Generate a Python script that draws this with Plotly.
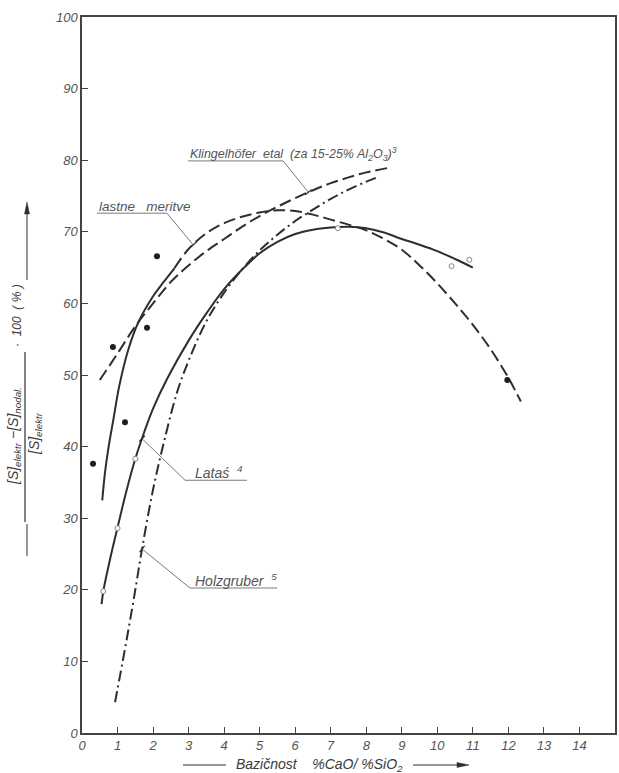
import numpy as np
import plotly.graph_objects as go

# ---------------- data ----------------
x_ticks = list(range(0, 16))
y_ticks = list(range(0, 101, 10))

# lastne meritve (own measurements): solid lower part, dashed upper part
lastne_solid_x = [0.57, 0.65, 0.75, 0.88, 1.05, 1.3, 1.58, 2.0, 2.3, 2.6]
lastne_solid_y = [32.5, 36.5, 40.0, 43.7, 48.5, 53.5, 57.3, 61.0, 63.0, 64.9]
lastne_dash_x = [2.6, 3.0, 3.5, 4.0, 4.5, 5.0, 5.5, 6.0, 6.5, 7.0, 7.5, 8.0, 8.5,
                 9.0, 9.5, 10.0, 10.5, 11.0, 11.5, 12.0, 12.35]
lastne_dash_y = [64.9, 67.6, 69.8, 71.2, 72.1, 72.7, 73.0, 72.9, 72.4, 71.7, 71.0,
                 70.2, 69.0, 67.5, 65.3, 62.8, 60.0, 57.0, 53.6, 49.6, 46.3]
own_pts_x = [0.31, 0.87, 1.21, 1.83, 2.11, 11.97]
own_pts_y = [37.6, 53.9, 43.4, 56.6, 66.6, 49.3]

# Klingelhöfer et al. (15-25 % Al2O3)
kling_x = [0.5, 1.0, 1.5, 2.0, 2.5, 3.0, 3.5, 4.0, 4.5, 5.0, 5.5, 6.0, 6.5,
           7.0, 7.5, 8.0, 8.7]
kling_y = [49.3, 53.0, 56.8, 60.0, 63.0, 65.3, 67.3, 69.0, 70.7, 72.2, 73.5,
           74.7, 75.8, 76.8, 77.6, 78.3, 79.0]

# Lataś
latas_x = [0.55, 0.6, 0.8, 1.0, 1.25, 1.5, 1.75, 2.0, 2.4, 3.0, 3.5, 4.0, 4.5,
           5.0, 5.5, 6.0, 6.5, 7.0, 7.5, 8.0, 8.5, 9.0, 9.5, 10.0, 10.5, 11.0]
latas_y = [18.0, 19.8, 24.5, 28.7, 33.8, 38.3, 42.0, 45.3, 49.5, 54.8, 58.6,
           62.0, 64.7, 67.0, 68.6, 69.7, 70.3, 70.6, 70.7, 70.5, 69.9, 69.0,
           68.2, 67.3, 66.2, 65.0]
latas_pts_x = [0.6, 1.0, 1.5, 7.2, 10.4, 10.9]
latas_pts_y = [19.8, 28.6, 38.3, 70.5, 65.2, 66.1]

# Holzgruber
holz_x = [0.93, 1.2, 1.45, 1.7, 2.0, 2.3, 2.67, 3.0, 3.5, 4.0, 4.5, 5.0, 5.5,
          6.0, 6.5, 7.0, 7.5, 8.0, 8.3]
holz_y = [4.3, 11.5, 18.5, 26.0, 34.0, 40.5, 47.5, 52.0, 57.5, 61.5, 64.7,
          67.4, 69.6, 71.5, 73.1, 74.6, 75.9, 77.0, 77.6]

# ---------------- style ----------------
W, H = 619, 773
ML, MR, MT, MB = 82, 4, 17, 40
PW, PH = W - ML - MR, H - MT - MB
XR, YR = (0, 15), (0, 100)
SX = PW / (XR[1] - XR[0])
SY = PH / (YR[1] - YR[0])

INK = "#2e2e2e"
GREY = "#555555"
LEAD = "#7a7a7a"
FONT = "Liberation Sans"

fig = go.Figure()

def curve(x, y, dash, width=2.0):
    fig.add_trace(go.Scatter(x=x, y=y, mode="lines", line_shape="spline",
                             line=dict(color=INK, width=width, dash=dash),
                             hoverinfo="skip", showlegend=False))

curve(kling_x, kling_y, "12px,5px")
curve(lastne_solid_x, lastne_solid_y, "solid")
curve(lastne_dash_x, lastne_dash_y, "12px,5px")
curve(latas_x, latas_y, "solid")
curve(holz_x, holz_y, "11px,4px,2px,4px")

fig.add_trace(go.Scatter(x=own_pts_x, y=own_pts_y, mode="markers",
                         marker=dict(size=6, color="#1e1e1e"),
                         hoverinfo="skip", showlegend=False))
fig.add_trace(go.Scatter(x=latas_pts_x, y=latas_pts_y, mode="markers",
                         marker=dict(size=5, color="white", symbol="circle",
                                     line=dict(color="#888888", width=1)),
                         hoverinfo="skip", showlegend=False))

# ---------------- labels with leader lines ----------------
def leader(text, tx, ty, ul_x0, ul_x1, ul_y, cx, cy_curve_x, cy_curve_y, from_right,
           size=12.5):
    fig.add_annotation(x=tx, y=ty, xref="x", yref="y", text=text, showarrow=False,
                       xanchor="left", yanchor="middle",
                       font=dict(family=FONT, size=size, color=GREY, style="italic"))
    fig.add_shape(type="line", xref="x", yref="y", x0=ul_x0, x1=ul_x1, y0=ul_y, y1=ul_y,
                  line=dict(color=LEAD, width=1))
    sx = ul_x1 if from_right else ul_x0
    ey = float(np.interp(cx, cy_curve_x, cy_curve_y))
    fig.add_shape(type="line", xref="x", yref="y", x0=sx, y0=ul_y, x1=cx, y1=ey,
                  line=dict(color=LEAD, width=1))
    # small tick perpendicular to the leader at the curve
    dxp, dyp = (cx - sx) * SX, (ey - ul_y) * SY
    n = np.hypot(dxp, dyp)
    px, py = -dyp / n * 4, dxp / n * 4
    fig.add_shape(type="line", xref="x", yref="y",
                  x0=cx - px / SX, y0=ey - py / SY, x1=cx + px / SX, y1=ey + py / SY,
                  line=dict(color=INK, width=1.2))

leader("Klingelhöfer  etal  (za 15-25% Al<sub>2</sub>O<sub>3</sub>)<sup>3</sup>",
       2.98, 80.9, 2.98, 5.66, 79.9, 6.37, kling_x, kling_y, True, size=12.5)
leader("lastne   meritve", 0.42, 73.5, 0.42, 2.39, 72.6, 3.13,
       lastne_dash_x, lastne_dash_y, True, size=13.5)
leader("Lataś  <sup>4</sup>", 3.12, 36.4, 2.9, 4.64, 35.3, 1.69, latas_x, latas_y, False,
       size=14)
leader("Holzgruber  <sup>5</sup>", 3.12, 21.4, 3.04, 5.49, 20.25, 1.69, holz_x, holz_y,
       False, size=14)

# ---------------- axis titles (pixel placed, paper coords) ----------------
def px_x(p):
    return (p - ML) / PW

def px_y(p):
    return (H - MB - p) / PH

def hline(x0, x1, y, w=1):
    fig.add_shape(type="line", xref="paper", yref="paper", x0=px_x(x0), x1=px_x(x1),
                  y0=px_y(y), y1=px_y(y), line=dict(color=INK, width=w))

def vline(x, y0, y1, w=1):
    fig.add_shape(type="line", xref="paper", yref="paper", x0=px_x(x), x1=px_x(x),
                  y0=px_y(y0), y1=px_y(y1), line=dict(color=INK, width=w))

def tri(pts):
    path = "M " + " L ".join(f"{px_x(a):.5f},{px_y(b):.5f}" for a, b in pts) + " Z"
    fig.add_shape(type="path", xref="paper", yref="paper", path=path,
                  fillcolor=INK, line=dict(color=INK, width=0.5))

tfont = dict(family=FONT, size=14, color="#3a3a3a", style="italic")
# y title: fraction, rotated
fig.add_annotation(xref="paper", yref="paper", x=px_x(14), y=px_y(436), textangle=-90,
                   xanchor="center", yanchor="middle",
                   text="[S]<sub>elektr</sub> −[S]<sub>nodal.</sub>", showarrow=False,
                   font=tfont)
fig.add_annotation(xref="paper", yref="paper", x=px_x(35), y=px_y(434), textangle=-90,
                   xanchor="center", yanchor="middle",
                   text="[S]<sub>elektr</sub>", showarrow=False, font=tfont)
fig.add_annotation(xref="paper", yref="paper", x=px_x(17), y=px_y(316), textangle=-90,
                   xanchor="center", yanchor="middle",
                   text="·  100  ( % )", showarrow=False,
                   font=dict(family=FONT, size=12, color="#3a3a3a", style="italic"))
vline(25, 522, 352, 1.2)
vline(27, 524, 556)
vline(27, 212, 280)
tri([(27, 202), (24.5, 214), (29.5, 214)])

# x title
fig.add_annotation(xref="paper", yref="paper", x=px_x(319), y=px_y(765),
                   xanchor="center", yanchor="middle",
                   text="Bazičnost    %CaO/ %SiO<sub>2</sub>", showarrow=False,
                   font=dict(family=FONT, size=14, color="#3a3a3a", style="italic"))
hline(183, 226, 765)
hline(413, 458, 765)
tri([(469, 765), (457, 762.5), (457, 767.5)])

# ---------------- axes ----------------
axis_common = dict(showgrid=False, zeroline=False, showline=True, linecolor="#444",
                   linewidth=1.5, mirror=True, ticks="inside", ticklen=6,
                   tickcolor="#444", tickwidth=1, automargin=False,
                   tickfont=dict(family=FONT, size=13, color=GREY, style="italic"))
fig.update_xaxes(range=list(XR), tickvals=x_ticks, ticktext=[str(v) for v in x_ticks],
                 **axis_common)
fig.update_yaxes(range=list(YR), tickvals=y_ticks, ticktext=[str(v) for v in y_ticks],
                 **axis_common)

fig.update_layout(width=W, height=H, margin=dict(l=ML, r=MR, t=MT, b=MB, autoexpand=False),
                  paper_bgcolor="white", plot_bgcolor="white", showlegend=False,
                  hovermode=False)

fig.write_html("out.html", config={"displayModeBar": False},
               post_script="document.body.style.margin='0px';"
                           "document.body.style.overflow='hidden';")
